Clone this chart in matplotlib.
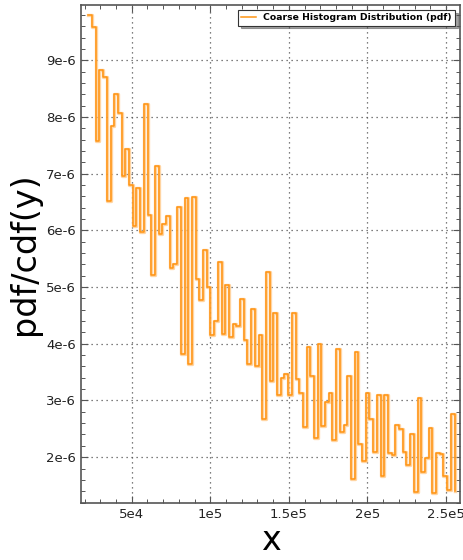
import numpy as np
import matplotlib
matplotlib.use('Agg')
import matplotlib.pyplot as plt
from matplotlib.ticker import MultipleLocator

# left bin edges of the coarse histogram
x_start = 22360
bin_width = 2355
n_bins = 100
x_edges = [x_start + i * bin_width for i in range(n_bins)]

# pdf values (units of 1e-6)
pdf_e6 = [
    9.80, 9.59, 7.57, 8.82, 8.70, 6.52, 7.84, 8.41, 8.07, 6.96,
    7.43, 6.80, 6.07, 6.75, 5.97, 8.22, 6.27, 5.22, 7.13, 5.94,
    6.12, 6.26, 5.33, 5.40, 6.41, 3.82, 6.57, 3.64, 6.59, 5.15,
    4.78, 5.65, 5.00, 4.15, 4.41, 5.45, 4.18, 5.04, 4.12, 4.34,
    4.31, 4.79, 4.07, 3.65, 4.62, 3.61, 4.15, 2.68, 5.27, 3.35,
    4.55, 3.10, 3.40, 3.47, 3.10, 4.55, 3.38, 3.14, 2.54, 3.94,
    3.44, 2.34, 4.00, 2.55, 2.97, 3.14, 2.30, 3.90, 2.44, 2.56,
    3.43, 1.62, 3.85, 2.23, 1.93, 3.13, 2.68, 2.09, 3.09, 1.66,
    3.09, 2.07, 2.04, 2.57, 2.49, 2.10, 1.86, 2.40, 1.39, 3.05,
    1.73, 1.99, 2.51, 1.36, 2.07, 2.05, 1.67, 1.42, 2.76, 1.41,
]
pdf = np.array(pdf_e6) * 1e-6

x_ticks = [5e4, 1e5, 1.5e5, 2e5, 2.5e5]
x_ticklabels = ['5e4', '1e5', '1.5e5', '2e5', '2.5e5']
y_ticks = [2e-6, 3e-6, 4e-6, 5e-6, 6e-6, 7e-6, 8e-6, 9e-6]
y_ticklabels = ['2e-6', '3e-6', '4e-6', '5e-6', '6e-6', '7e-6', '8e-6', '9e-6']

fig = plt.figure(figsize=(4.63, 5.60), dpi=100)
ax = fig.add_axes([0.175, 0.102, 0.819, 0.889])

ax.step(x_edges, pdf, where='post', color='#ffc27a', lw=2.4, alpha=0.7)
ax.step(x_edges, pdf, where='post', color='#ff9412', lw=1.1,
        label='Coarse Histogram Distribution (pdf)')

ax.set_xlim(17700, 259100)
ax.set_ylim(1.194e-6, 9.974e-6)

ax.set_xticks(x_ticks)
ax.set_xticklabels(x_ticklabels)
ax.set_yticks(y_ticks)
ax.set_yticklabels(y_ticklabels)
ax.xaxis.set_minor_locator(MultipleLocator(1e4))
ax.yaxis.set_minor_locator(MultipleLocator(0.2e-6))

ax.tick_params(which='both', direction='in', top=True, right=True,
               colors='#555555', labelcolor='#222222', labelsize=9.5)
ax.tick_params(which='major', length=5, width=0.8)
ax.tick_params(which='minor', length=3, width=0.7)
for s in ax.spines.values():
    s.set_color('#555555')
    s.set_linewidth(1.2)

ax.grid(True, which='major', ls=(0, (1, 3)), color='#555555', lw=0.9)

ax.set_xlabel('x', fontsize=24, labelpad=2)
ax.set_ylabel('pdf/cdf(y)', fontsize=24, labelpad=4)

leg = ax.legend(loc='upper right', prop={'size': 6.7, 'weight': 'bold'},
                fancybox=False, shadow=True, framealpha=1,
                borderpad=0.35, handlelength=1.6, handletextpad=0.8,
                borderaxespad=0.55)
leg.get_frame().set_edgecolor('#333333')
leg.get_frame().set_linewidth(0.8)

fig.savefig('out.png', dpi=100)
